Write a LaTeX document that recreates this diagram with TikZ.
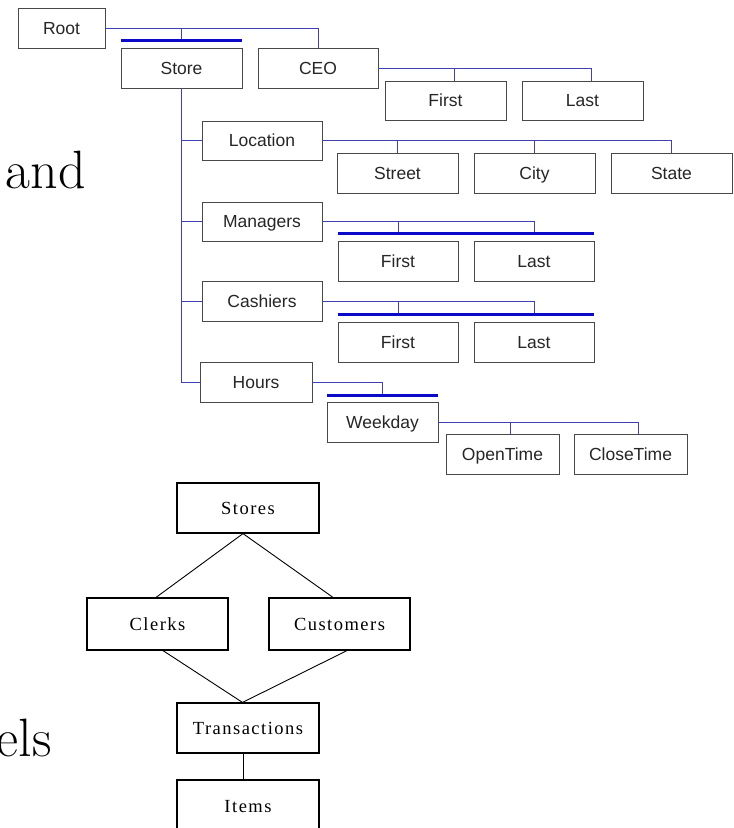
\documentclass[tikz,border=0pt]{standalone}
\usepackage{fontspec}
\setmainfont{Latin Modern Roman}
\newfontfamily\treefont{Liberation Sans}
\newfontfamily\erfont[LetterSpace=8]{Liberation Serif}
\definecolor{linkblue}{HTML}{4040B0}
\definecolor{barblue}{HTML}{0A0AC8}
\definecolor{boxgray}{HTML}{484848}
\tikzset{
  tbox/.style={draw=boxgray, line width=0.9pt, fill=white, inner sep=0pt,
    minimum width=121pt, minimum height=40pt, text=black!85,
    text height=12.6pt, text depth=0pt,
    font=\treefont\fontsize{17.5}{20}\selectfont},
  link/.style={draw=linkblue, line width=0.8pt},
  bar/.style={draw=barblue, line width=2.6pt},
  erbox/.style={draw=black, line width=1.2pt, inner sep=0pt,
    minimum width=142pt, minimum height=50pt,
    text height=12.4pt, text depth=0pt,
    font=\erfont\fontsize{18.5}{20}\selectfont},
  erline/.style={draw=black, line width=0.9pt},
  slidetext/.style={inner sep=0pt, font=\fontsize{54}{60}\selectfont}
}
\begin{document}
\begin{tikzpicture}[x=1pt,y=-1pt]
\useasboundingbox (0,0) rectangle (734,828);

% background slide words
\node[slidetext, anchor=base east] (andtxt) at (86,188) {and};
\node[slidetext, anchor=base east] (elstxt) at (52,756) {els};

% ---------- XML tree ----------
\node[tbox, minimum width=87pt] (root) at (61.5,28) {Root};
\node[tbox] (store) at (181.5,68) {Store};
\node[tbox, minimum width=120pt] (ceo) at (318,68) {CEO};
\node[tbox, minimum height=39pt] (ceoFirst) at (445.5,100.5) {First};
\node[tbox, minimum height=39pt] (ceoLast) at (582.5,100.5) {Last};

\node[tbox, minimum width=120pt, minimum height=39pt] (location) at (262,140.5) {Location};
\node[tbox] (street) at (397.5,173) {Street};
\node[tbox] (city) at (534.5,173) {City};
\node[tbox] (state) at (671.5,173) {State};

\node[tbox, minimum width=120pt, minimum height=39pt] (managers) at (262,221.5) {Managers};
\node[tbox, minimum width=120pt] (mFirst) at (398,261) {First};
\node[tbox, minimum width=120pt] (mLast) at (534,261) {Last};

\node[tbox, minimum width=120pt] (cashiers) at (262,301) {Cashiers};
\node[tbox, minimum width=120pt] (cFirst) at (398,342) {First};
\node[tbox, minimum width=120pt] (cLast) at (534,342) {Last};

\node[tbox, minimum width=112pt] (hours) at (256,382) {Hours};
\node[tbox, minimum width=111pt] (weekday) at (382.5,422) {Weekday};
\node[tbox, minimum width=113pt] (openT) at (502.5,454) {OpenTime};
\node[tbox, minimum width=113pt] (closeT) at (630.5,454) {CloseTime};

% sequence bars
\coordinate (sbarL) at ([yshift=7pt]store.north west);
\coordinate (sbarR) at ([yshift=7pt]store.north east);
\coordinate (mbarL) at ([yshift=7pt]mFirst.north west);
\coordinate (mbarR) at ([yshift=7pt]mLast.north east);
\coordinate (cbarL) at ([yshift=7pt]cFirst.north west);
\coordinate (cbarR) at ([yshift=7pt]cLast.north east);
\coordinate (hbarL) at ([yshift=6pt]weekday.north west);
\coordinate (hbarR) at ([yshift=6pt]weekday.north east);

% connectors
\draw[link] (root.east) -| (ceo.north);
\draw[link] (root.east -| store.north) -- (store.north |- sbarL);

\draw[link] (ceo.east) -| ([xshift=8.5pt]ceoLast.north);
\draw[link] ([xshift=8.5pt]ceoFirst.north) -- ([xshift=8.5pt]ceoFirst.north |- ceo.east);

\draw[link] (store.south) |- (hours.west);
\draw[link] (store.south |- location.west) -- (location.west);
\draw[link] (store.south |- managers.west) -- (managers.west);
\draw[link] (store.south |- cashiers.west) -- (cashiers.west);

\draw[link] (location.east) -| (state.north);
\draw[link] (street.north) -- (street.north |- location.east);
\draw[link] (city.north) -- (city.north |- location.east);

\draw[link] (managers.east) -| (mLast.north |- mbarL);
\draw[link] (mFirst.north |- mbarL) -- (mFirst.north |- managers.east);

\draw[link] (cashiers.east) -| (cLast.north |- cbarL);
\draw[link] (cFirst.north |- cbarL) -- (cFirst.north |- cashiers.east);

\draw[link] (hours.east) -| (weekday.north |- hbarL);

\draw[link] (weekday.east) -| ([xshift=7.5pt]closeT.north);
\draw[link] ([xshift=7.5pt]openT.north) -- ([xshift=7.5pt]openT.north |- weekday.east);

\draw[bar] (sbarL) -- (sbarR);
\draw[bar] (mbarL) -- (mbarR);
\draw[bar] (cbarL) -- (cbarR);
\draw[bar] (hbarL) -- (hbarR);

% ---------- ER-style diagram ----------
\node[erbox] (stores) at (248,508) {Stores};
\node[erbox, minimum width=141pt, minimum height=52pt] (clerks) at (157.5,624) {Clerks};
\node[erbox, minimum width=141pt, minimum height=52pt] (customers) at (339.5,624) {Customers};
\node[erbox] (trans) at (248,728) {Transactions};
\node[erbox, minimum height=54pt, text height=10pt] (items) at (248,807) {Items};

\draw[erline] ([xshift=-5pt]stores.south) -- ([xshift=-1.5pt]clerks.north);
\draw[erline] ([xshift=-5pt]stores.south) -- ([xshift=-6.5pt]customers.north);
\draw[erline] ([xshift=5.5pt]clerks.south) -- ([xshift=-5.5pt]trans.north);
\draw[erline] ([xshift=7.5pt]customers.south) -- ([xshift=-5.5pt]trans.north);
\draw[erline] ([xshift=-5pt]trans.south) -- ([xshift=-5pt]items.north);
\end{tikzpicture}
\end{document}
